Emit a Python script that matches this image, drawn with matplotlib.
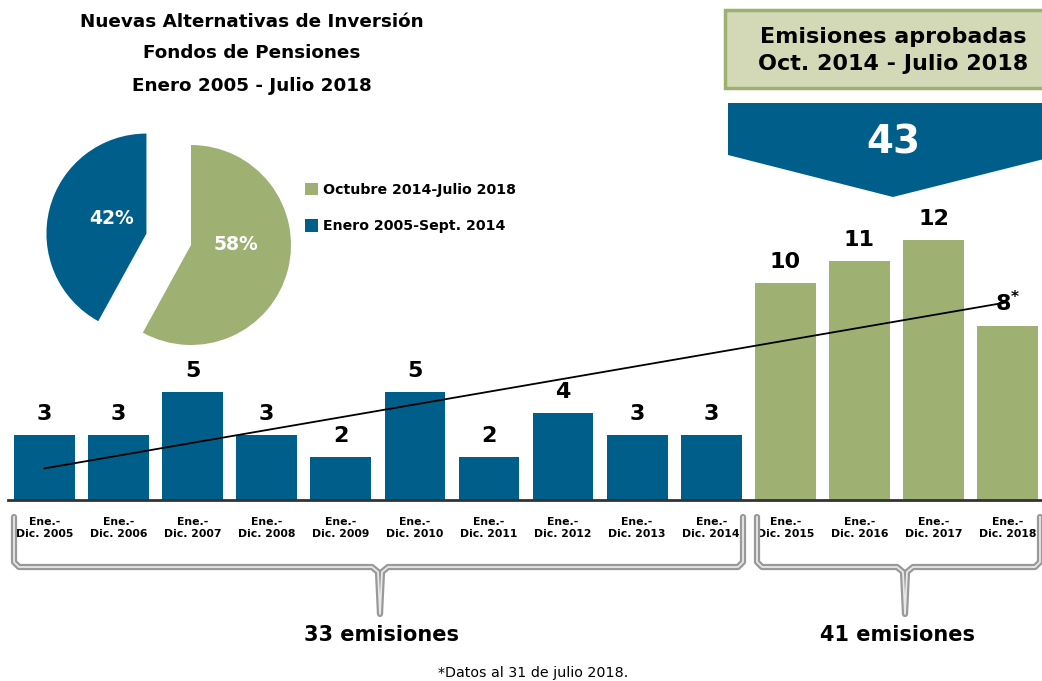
import numpy as np
import matplotlib
matplotlib.use("Agg")
from matplotlib import pyplot as plt
from matplotlib.patches import Polygon, Rectangle
from matplotlib.lines import Line2D

# data
years = ["2005", "2006", "2007", "2008", "2009", "2010", "2011",
         "2012", "2013", "2014", "2015", "2016", "2017", "2018"]
emisiones = [3, 3, 5, 3, 2, 5, 2, 4, 3, 3, 10, 11, 12, 8]
n_old = 10  # first 10 bars: Ene 2005 - Sept 2014

pie_labels = ["Octubre 2014-Julio 2018", "Enero 2005-Sept. 2014"]
pie_values = [58, 42]

total_aprobadas = 43
grupo_textos = ["33 emisiones", "41 emisiones"]

BLUE = "#005f8a"
GREEN = "#9eb173"

W, H = 1042, 681
fig = plt.figure(figsize=(W / 100, H / 100), dpi=100)
fig.patch.set_facecolor("white")


def fx(x):
    return x / W


def fy(y):
    return 1 - y / H


# ---- bar chart
ax = fig.add_axes([0, 181 / H, 1, 500 / H])
step = 74.08
ax.set_xlim(-44.5 / step, (W - 44.5) / step)
ax.set_ylim(0, 500 / 21.7)
ax.axis("off")
x = np.arange(len(emisiones))
colors = [BLUE] * n_old + [GREEN] * (len(emisiones) - n_old)
ax.bar(x, emisiones, width=0.82, color=colors, zorder=2)
ax.plot([-0.49, 13.5], [0, 0], color="#333333", lw=2, zorder=3, clip_on=False)

# trend line
k, b = np.polyfit(x, emisiones, 1)
ax.plot([0, x[-1]], [b, k * x[-1] + b], color="black", lw=1.3, zorder=4)

for i, v in enumerate(emisiones):
    lab = str(v)
    if i == len(emisiones) - 1:
        lab += r"$^{\mathbf{*}}$"  # partial year
    ax.text(i, v + 0.5, lab, ha="center", va="bottom", fontsize=16,
            fontweight="bold", color="black", zorder=5)
    ax.text(i, -1.3, "Ene.-\nDic. " + years[i], ha="center", va="center",
            fontsize=7.8, fontweight="bold", linespacing=1.3, clip_on=False)

# ---- pie
pax = fig.add_axes([fx(41), fy(245 + 150), fx(300), 300 / H])
wedges, _, autotexts = pax.pie(pie_values, colors=[GREEN, BLUE], startangle=90,
                               counterclock=False, explode=[0, 0.46],
                               autopct="%d%%", pctdistance=0.42,
                               textprops=dict(color="white", fontsize=13.5,
                                              fontweight="bold"))
pax.set_xlim(-1.5, 1.5)
pax.set_ylim(-1.5, 1.5)
pax.set_aspect("equal")
pax.axis("off")
autotexts[0].set_position((0.45, 0.0))
autotexts[1].set_position((-0.79, 0.27))

fig.legend(wedges, pie_labels, loc="upper left",
           bbox_to_anchor=(fx(292), fy(170)), frameon=False,
           handlelength=0.95, handleheight=0.95, handletextpad=0.35,
           labelspacing=1.6, prop=dict(size=10.2, weight="bold"))

# ---- titles
for yy, t in zip([22, 53, 86], ["Nuevas Alternativas de Inversión",
                                "Fondos de Pensiones",
                                "Enero 2005 - Julio 2018"]):
    fig.text(fx(252), fy(yy), t, ha="center", va="center", fontsize=13.2,
             fontweight="bold")

# ---- box top right
fig.add_artist(Rectangle((fx(725), fy(88)), fx(330), 78 / H,
                         transform=fig.transFigure, facecolor="#d3d9b6",
                         edgecolor="#9db16f", lw=2.5, clip_on=False))
fig.text(fx(893), fy(37), "Emisiones aprobadas", ha="center", va="center",
         fontsize=16, fontweight="bold")
fig.text(fx(893), fy(64), "Oct. 2014 - Julio 2018", ha="center", va="center",
         fontsize=16, fontweight="bold")

pts = [(728, 103), (1060, 103), (1060, 155), (893, 197), (728, 155)]
fig.add_artist(Polygon([(fx(a), fy(c)) for a, c in pts], closed=True,
                       transform=fig.transFigure, facecolor=BLUE,
                       edgecolor="none"))
fig.text(fx(893), fy(143), str(total_aprobadas), ha="center", va="center",
         fontsize=28, fontweight="bold", color="white")

# ---- brackets
left_br = [(14, 517), (14, 562), (19, 567), (372, 567), (378, 572), (380, 614),
           (382, 572), (388, 567), (738, 567), (743, 562), (743, 517)]
right_br = [(757, 517), (757, 562), (762, 567), (897, 567), (903, 572),
            (905, 614), (907, 572), (913, 567), (1035, 567), (1040, 562),
            (1040, 517)]
for br in [left_br, right_br]:
    xs = [fx(p[0]) for p in br]
    ys = [fy(p[1]) for p in br]
    fig.add_artist(Line2D(xs, ys, transform=fig.transFigure, color="#999999",
                          lw=4.5, solid_joinstyle="round",
                          solid_capstyle="round"))
    fig.add_artist(Line2D(xs, ys, transform=fig.transFigure, color="#e8e8e8",
                          lw=1.3, solid_joinstyle="round"))

fig.text(fx(381), fy(635), grupo_textos[0], ha="center", va="center",
         fontsize=15, fontweight="bold")
fig.text(fx(898), fy(635), grupo_textos[1], ha="center", va="center",
         fontsize=15, fontweight="bold")
fig.text(fx(533), fy(673), "*Datos al 31 de julio 2018.", ha="center",
         va="center", fontsize=10.3)

fig.savefig("out.png", dpi=100)
